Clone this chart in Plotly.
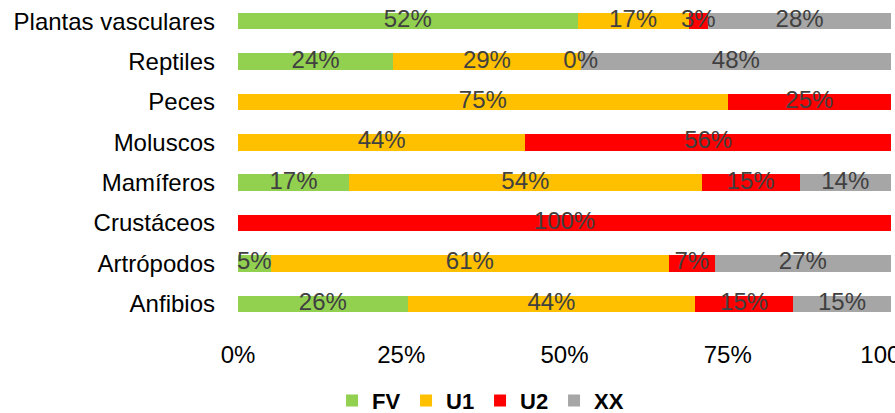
import plotly.graph_objects as go

categories = ["Plantas vasculares", "Reptiles", "Peces", "Moluscos",
              "Mamíferos", "Crustáceos", "Artrópodos", "Anfibios"]
series_names = ["FV", "U1", "U2", "XX"]
fv = [52, 24, None, None, 17, None, 5, 26]
u1 = [17, 29, 75, 44, 54, None, 61, 44]
u2 = [3, 0, 25, 56, 15, 100, 7, 15]
xx = [28, 48, None, None, 14, None, 27, 15]
colors = ["#92D050", "#FFC000", "#FF0000", "#A6A6A6"]
tick_vals = [0, 25, 50, 75, 100]
tick_text = ["0%", "25%", "50%", "75%", "100%"]

FONT = "Liberation Sans, Arial, sans-serif"
series = [fv, u1, u2, xx]
# normalise to 100% stacked
totals = [sum((s[i] or 0) for s in series) for i in range(len(categories))]

fig = go.Figure()
starts = [0.0] * len(categories)
for name, vals, col in zip(series_names, series, colors):
    pct = [None if v is None else v / t * 100 for v, t in zip(vals, totals)]
    fig.add_trace(go.Bar(
        name=name, y=categories, x=[p if p is not None else 0 for p in pct],
        orientation="h", marker=dict(color=col, line=dict(width=0)),
        hoverinfo="skip"))
    cx, cy, tx = [], [], []
    for i, p in enumerate(pct):
        if p is not None:
            cx.append(starts[i] + p / 2)
            cy.append(categories[i])
            tx.append(f"{vals[i]}%")
            starts[i] += p
    fig.add_trace(go.Scatter(
        x=cx, y=cy, text=tx, mode="text", textposition="middle center",
        textfont=dict(family=FONT, size=24, color="#404040"),
        showlegend=False, hoverinfo="skip", cliponaxis=False))

fig.update_layout(
    barmode="stack", bargap=0.59,
    width=895, height=413,
    margin=dict(l=238, r=4, t=1, b=89, autoexpand=False),
    paper_bgcolor="white", plot_bgcolor="white",
    font=dict(family=FONT, size=24, color="#000000"),
    xaxis=dict(range=[0, 100], tickvals=tick_vals, ticktext=tick_text,
               showgrid=False, zeroline=False, showline=False,
               ticks="", ticklabelstandoff=14, automargin=False,
               ticklabeloverflow="allow",
               tickfont=dict(family=FONT, size=24, color="#000000")),
    yaxis=dict(autorange="reversed", showgrid=False, zeroline=False,
               showline=False, ticks="", ticklabelstandoff=22, automargin=False,
               tickfont=dict(family=FONT, size=24, color="#000000")),
    legend=dict(orientation="h", xref="container", yref="container",
                x=0.371, xanchor="left", y=0.03, yanchor="middle",
                font=dict(family=FONT, size=22, color="#000000", weight="bold"),
                itemwidth=30, traceorder="normal", entrywidth=29),
    showlegend=True,
)

fig.write_html("out.html", config={"displayModeBar": False},
               post_script="document.body.style.margin='0';document.body.style.overflow='hidden';")
